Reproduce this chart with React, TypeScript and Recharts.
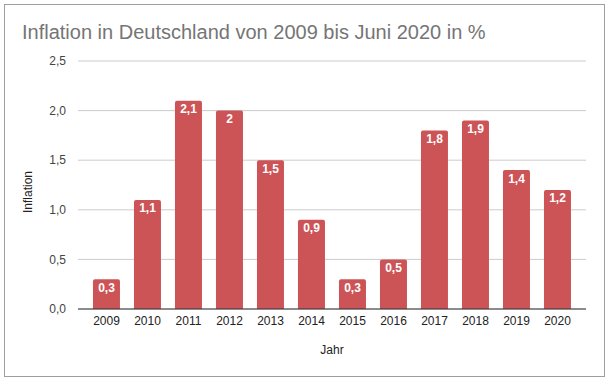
import { BarChart, Bar, XAxis, YAxis, CartesianGrid, LabelList } from "recharts";

const years = ["2009", "2010", "2011", "2012", "2013", "2014", "2015", "2016", "2017", "2018", "2019", "2020"];
const inflation = [0.3, 1.1, 2.1, 2.0, 1.5, 0.9, 0.3, 0.5, 1.8, 1.9, 1.4, 1.2];
const yTicks = [0, 0.5, 1, 1.5, 2, 2.5];

const data = years.map((jahr, i) => ({ jahr, inflation: inflation[i] }));

const FONT = "'Liberation Sans', Arial, sans-serif";

const fmtTick = (v: number) => v.toFixed(1).replace(".", ",");
const fmtLabel = (v: number) => String(v).replace(".", ",");

export default function App() {
  return (
    <div style={{ position: "absolute", left: 0, top: 0, width: 609, height: 380, background: "#fff", fontFamily: FONT }}>
      <div
        style={{
          position: "absolute",
          left: 4,
          top: 4,
          width: 599,
          height: 371,
          border: "1px solid #9e9e9e",
        }}
      />
      <div
        style={{
          position: "absolute",
          left: 22,
          top: 21,
          fontSize: 20,
          color: "#757575",
          lineHeight: "23px",
          whiteSpace: "nowrap",
        }}
      >
        Inflation in Deutschland von 2009 bis Juni 2020 in %
      </div>
      <div style={{ position: "absolute", left: 0, top: 0 }}>
        <BarChart
          width={609}
          height={380}
          data={data}
          margin={{ top: 61, right: 23, bottom: 0, left: 0 }}
          barCategoryGap="17%"
        >
          <CartesianGrid vertical={false} stroke="#cccccc" />
          <XAxis
            dataKey="jahr"
            height={71}
            padding={{ left: 8, right: 8 }}
            tickLine={false}
            axisLine={{ stroke: "#333333" }}
            tick={{ fill: "#222222", fontSize: 12, fontFamily: FONT }}
            tickMargin={1}
            label={{ value: "Jahr", position: "insideBottom", offset: 26, fill: "#222222", fontSize: 12, fontFamily: FONT }}
          />
          <YAxis
            width={78}
            domain={[0, 2.5]}
            ticks={yTicks}
            tickFormatter={fmtTick}
            tickLine={false}
            axisLine={false}
            tick={{ fill: "#444444", fontSize: 12, fontFamily: FONT }}
            tickMargin={6}
            label={{
              content: () => (
                <text
                  x={28}
                  y={192}
                  transform="rotate(-90 28 192)"
                  textAnchor="middle"
                  dominantBaseline="central"
                  fill="#222222"
                  fontSize={12}
                  fontFamily={FONT}
                >
                  Inflation
                </text>
              ),
            }}
          />
          <Bar dataKey="inflation" fill="#cc5457" radius={[2, 2, 0, 0]} isAnimationActive={false}>
            <LabelList
              dataKey="inflation"
              position="insideTop"
              offset={4}
              formatter={(v: number) => fmtLabel(v)}
              fill="#ffffff"
              fontSize={12}
              fontWeight="bold"
              fontFamily={FONT}
            />
          </Bar>
        </BarChart>
      </div>
    </div>
  );
}
